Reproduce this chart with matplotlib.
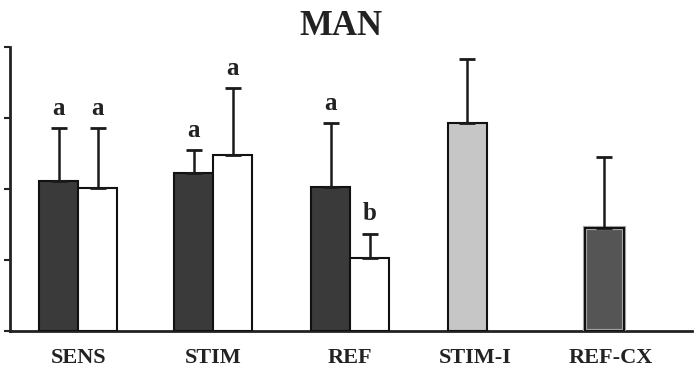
import numpy as np
import matplotlib
matplotlib.use('Agg')
import matplotlib.pyplot as plt

plt.rcParams['font.family'] = ['Liberation Serif', 'DejaVu Serif']
plt.rcParams['font.weight'] = 'bold'

# data (y axis units = tick spacing)
groups = ['SENS', 'STIM', 'REF', 'STIM-I', 'REF-CX']
dark_vals = [2.11, 2.23, 2.03]
dark_err = [0.75, 0.32, 0.90]
white_vals = [2.01, 2.48, 1.03]
white_err = [0.85, 0.94, 0.34]
dark_letters = ['a', 'a', 'a']
white_letters = ['a', 'a', 'b']
stimi_val, stimi_err = 2.93, 0.90
refcx_val, refcx_err = 1.45, 1.00

# layout
pair_pos = np.array([0.0, 0.985, 1.985])
single_pos = [2.84, 3.84]
w = 0.285

fig = plt.figure(figsize=(6.95, 3.85), dpi=100)
ax = fig.add_axes([0.0144, 0.140, 0.981, 0.738])

ekw = dict(ecolor='#1a1a1a', elinewidth=1.8, capsize=5.5, capthick=2)

ax.bar(pair_pos - w / 2, dark_vals, w, color='#3a3a3a', edgecolor='#111111', linewidth=1.5,
       yerr=[np.zeros(3), dark_err], error_kw=ekw, zorder=3)
ax.bar(pair_pos + w / 2, white_vals, w, color='white', edgecolor='#111111', linewidth=1.5,
       yerr=[np.zeros(3), white_err], error_kw=ekw, zorder=3)
ax.bar(single_pos[0], stimi_val, w, color='#c6c6c6', edgecolor='#111111', linewidth=1.5,
       yerr=[[0], [stimi_err]], error_kw=ekw, zorder=3)
ax.bar(single_pos[1], refcx_val, w, color='#555555', edgecolor='#a8a8a8', linewidth=3,
       yerr=[[0], [refcx_err]], error_kw=ekw, zorder=3)
ax.bar(single_pos[1], refcx_val, w, color='none', edgecolor='#111111', linewidth=1.5, zorder=4)

# significance letters
for x, v, e, t in zip(pair_pos - w / 2, dark_vals, dark_err, dark_letters):
    ax.annotate(t, (x, v + e), xytext=(0, 6), textcoords='offset points',
                ha='center', va='bottom', fontsize=18, color='#222222')
for x, v, e, t in zip(pair_pos + w / 2, white_vals, white_err, white_letters):
    ax.annotate(t, (x, v + e), xytext=(0, 6), textcoords='offset points',
                ha='center', va='bottom', fontsize=18, color='#222222')

ax.set_xlim(-0.5, 4.48)
ax.set_ylim(0, 4)
ax.set_yticks([0, 1, 2, 3, 4])
ax.set_yticklabels([])
ax.set_xticks([0.0, 0.985, 1.985, 2.9, 3.89])
ax.set_xticklabels(groups, fontsize=16, color='#222222')
ax.tick_params(axis='x', length=0, pad=12)
ax.tick_params(axis='y', direction='out', length=4, width=1.5, color='#222222')

for s in ['top', 'right']:
    ax.spines[s].set_visible(False)
for s in ['left', 'bottom']:
    ax.spines[s].set_linewidth(2)
    ax.spines[s].set_color('#222222')

fig.text(0.49, 0.93, 'MAN', ha='center', va='center', fontsize=25, color='#222222')

fig.savefig('out.png', dpi=100)
